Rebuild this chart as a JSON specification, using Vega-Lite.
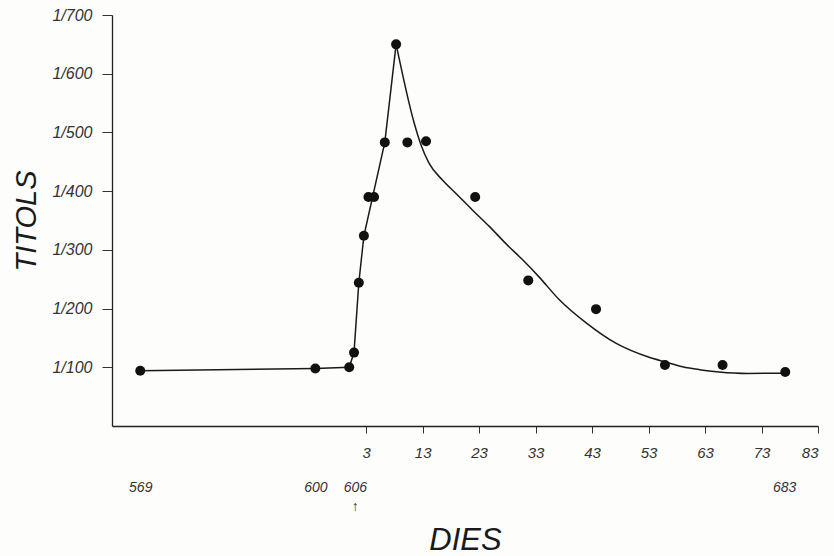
{
  "$schema": "https://vega.github.io/schema/vega-lite/v6.json",
  "width": 706,
  "height": 411,
  "autosize": {"type": "none"},
  "padding": {"left": 112, "top": 15, "right": 16, "bottom": 130},
  "background": "#fdfdfb",
  "config": {
    "view": {"stroke": null},
    "axis": {
      "grid": false,
      "domainColor": "#222",
      "domainWidth": 1.3,
      "tickColor": "#333",
      "tickWidth": 1,
      "labelFont": "Liberation Sans",
      "labelFontStyle": "italic",
      "labelColor": "#333",
      "titleFont": "Liberation Sans",
      "titleFontStyle": "italic",
      "titleFontWeight": "normal",
      "titleColor": "#1a1a1a"
    }
  },
  "datasets": {
    "points": [
      {"dia": -37, "titol": 94},
      {"dia": -6, "titol": 98},
      {"dia": 0, "titol": 100},
      {"dia": 0.85, "titol": 125},
      {"dia": 1.7, "titol": 244},
      {"dia": 2.6, "titol": 324},
      {"dia": 3.4, "titol": 390},
      {"dia": 4.4, "titol": 390},
      {"dia": 6.3, "titol": 483},
      {"dia": 8.3, "titol": 650},
      {"dia": 10.3, "titol": 483},
      {"dia": 13.6, "titol": 485},
      {"dia": 22.3, "titol": 390},
      {"dia": 31.7, "titol": 248},
      {"dia": 43.7, "titol": 199},
      {"dia": 55.9, "titol": 104},
      {"dia": 66.1, "titol": 104},
      {"dia": 77.2, "titol": 92}
    ],
    "rise": [
      {"dia": -37, "titol": 94},
      {"dia": -6, "titol": 98},
      {"dia": 0, "titol": 100},
      {"dia": 0.85, "titol": 125},
      {"dia": 1.7, "titol": 244},
      {"dia": 2.6, "titol": 324},
      {"dia": 6.3, "titol": 483},
      {"dia": 8.3, "titol": 650}
    ],
    "fall": [
      {"dia": 8.3, "titol": 650},
      {"dia": 9.4, "titol": 601},
      {"dia": 10.6, "titol": 550},
      {"dia": 11.5, "titol": 516},
      {"dia": 12.7, "titol": 479},
      {"dia": 14.1, "titol": 448},
      {"dia": 16.5, "titol": 419},
      {"dia": 18.9, "titol": 396},
      {"dia": 21.8, "titol": 368},
      {"dia": 24.8, "titol": 340},
      {"dia": 27.7, "titol": 311},
      {"dia": 30.7, "titol": 283},
      {"dia": 33.6, "titol": 254},
      {"dia": 37.2, "titol": 215},
      {"dia": 41.9, "titol": 176},
      {"dia": 47.2, "titol": 141},
      {"dia": 53.1, "titol": 117},
      {"dia": 56, "titol": 109},
      {"dia": 59, "titol": 101},
      {"dia": 62, "titol": 96},
      {"dia": 65.5, "titol": 92},
      {"dia": 70.5, "titol": 89.5},
      {"dia": 77.2, "titol": 90}
    ],
    "dates": [
      {"dia": -37},
      {"dia": -6},
      {"dia": 1},
      {"dia": 77}
    ]
  },
  "resolve": {"axis": {"x": "independent"}},
  "layer": [
    {
      "data": {"name": "rise"},
      "mark": {"type": "line", "color": "#1a1a1a", "strokeWidth": 1.5},
      "encoding": {
        "x": {
          "field": "dia", "type": "quantitative",
          "scale": {"domain": [-42, 83], "nice": false, "zero": false},
          "axis": {
            "values": [3, 13, 23, 33, 43, 53, 63, 73, 83],
            "title": null,
            "tickSize": 7,
            "labelPadding": 12,
            "labelFontSize": 15
          }
        },
        "y": {
          "field": "titol", "type": "quantitative",
          "scale": {"domain": [0, 700], "nice": false, "zero": true},
          "axis": {
            "values": [100, 200, 300, 400, 500, 600, 700],
            "labelExpr": "'1/' + datum.value",
            "title": "TITOLS",
            "titleFontSize": 29,
            "titlePadding": 10,
            "tickSize": 10,
            "labelPadding": 10,
            "labelFontSize": 16
          }
        }
      }
    },
    {
      "data": {"name": "fall"},
      "mark": {"type": "line", "color": "#1a1a1a", "strokeWidth": 1.5, "interpolate": "monotone"},
      "encoding": {
        "x": {"field": "dia", "type": "quantitative", "axis": null},
        "y": {"field": "titol", "type": "quantitative"}
      }
    },
    {
      "data": {"name": "points"},
      "mark": {"type": "circle", "color": "#111", "opacity": 1, "size": 100},
      "encoding": {
        "x": {"field": "dia", "type": "quantitative", "axis": null},
        "y": {"field": "titol", "type": "quantitative"}
      }
    },
    {
      "data": {"name": "dates"},
      "mark": {"type": "point", "opacity": 0},
      "encoding": {
        "x": {
          "field": "dia", "type": "quantitative",
          "axis": {
            "orient": "bottom",
            "values": [-37, -6, 1, 77],
            "labelExpr": "datum.value == 1 ? ['606', '↑'] : '' + (datum.value + 606)",
            "domain": false,
            "ticks": false,
            "labelPadding": 54,
            "labelFontSize": 14,
            "labelLineHeight": 19,
            "title": "DIES",
            "titleFontSize": 31,
            "titlePadding": 12
          }
        }
      }
    }
  ]
}
